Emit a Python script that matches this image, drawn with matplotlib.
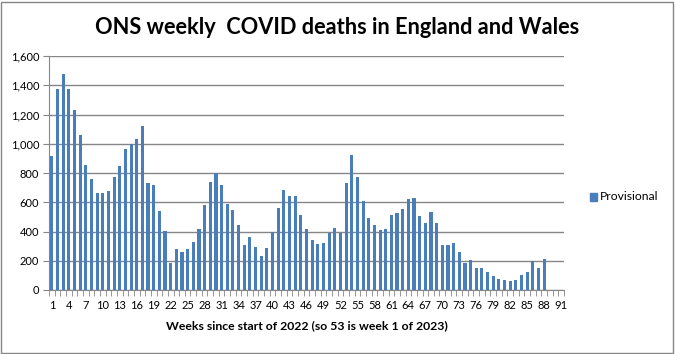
import matplotlib
matplotlib.use("Agg")
import matplotlib.pyplot as plt
from matplotlib.patches import Rectangle

weeks = list(range(1, 89))
deaths = [918, 1377, 1480, 1377, 1233, 1062, 858, 762, 664, 664,
          678, 776, 849, 961, 998, 1034, 1123, 733, 719, 541,
          402, 187, 281, 260, 281, 331, 418, 584, 740, 799,
          719, 591, 548, 445, 308, 363, 294, 233, 288, 399,
          562, 685, 646, 646, 514, 418, 342, 315, 322, 390,
          425, 390, 733, 920, 774, 610, 493, 445, 411, 418,
          514, 527, 555, 623, 630, 507, 459, 534, 459, 308,
          308, 322, 260, 185, 205, 151, 151, 123, 96, 75,
          68, 62, 68, 103, 123, 196, 151, 212]
n_categories = 91
tick_labels = [str(w) for w in range(1, n_categories + 1, 3)]
series_name = "Provisional"

plt.rcParams['font.family'] = ['Lato', 'DejaVu Sans']

fig = plt.figure(figsize=(6.75, 3.54), dpi=100)
W, H = 675, 354
fig.patches.append(Rectangle((1/W, 1/H), (W-3)/W, (H-3)/H, transform=fig.transFigure,
                             fill=False, edgecolor='#868686', linewidth=1))

ax = fig.add_axes([49/W, 1-290/H, (564-49)/W, (290-56)/H])
bar_color = '#4a7ebb'
ax.bar(weeks, deaths, width=0.55, color=bar_color, zorder=3)

ax.set_xlim(0.5, n_categories + 0.5)
ax.set_ylim(0, 1600)
ax.set_yticks(range(0, 1601, 200))
ax.set_yticklabels([f"{v:,}" for v in range(0, 1601, 200)], fontsize=8)
ax.yaxis.grid(True, color='#868686', linewidth=1, zorder=0)
ax.set_xticks(range(1, n_categories + 1, 3))
ax.set_xticklabels(tick_labels, fontsize=8)
ax.set_xticks([i + 0.5 for i in range(0, n_categories + 1)], minor=True)
ax.tick_params(axis='x', which='major', length=0, pad=7)
ax.tick_params(axis='x', which='minor', length=4, color='#868686', direction='out')
ax.tick_params(axis='y', length=4, color='#868686', pad=3)

for s in ['top', 'right']:
    ax.spines[s].set_visible(False)
for s in ['left', 'bottom']:
    ax.spines[s].set_color('#868686')

ax.set_xlabel("Weeks since start of 2022 (so 53 is week 1 of 2023)", fontsize=8.8,
              fontweight='bold', labelpad=7)

fig.text(337/W, 1-28/H, "ONS weekly  COVID deaths in England and Wales",
         ha='center', va='center', fontsize=15.7, fontweight='bold')

fig.patches.append(Rectangle((590/W, 1-201/H), 7/W, 8/H, transform=fig.transFigure,
                             color=bar_color))
fig.text(600/W, 1-197/H, series_name, ha='left', va='center', fontsize=8.7)

fig.savefig("out.png", dpi=100)
